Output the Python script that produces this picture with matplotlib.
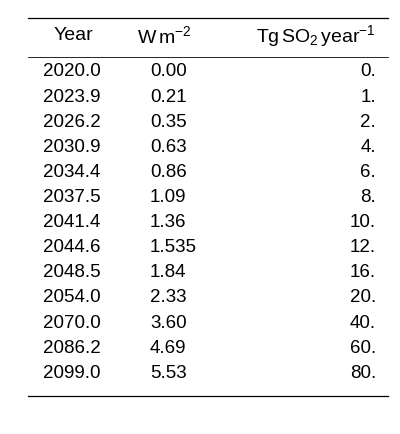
import matplotlib
matplotlib.use("Agg")
import matplotlib.pyplot as plt

years = ["2020.0","2023.9","2026.2","2030.9","2034.4","2037.5","2041.4","2044.6","2048.5","2054.0","2070.0","2086.2","2099.0"]
forcing = ["0.00","0.21","0.35","0.63","0.86","1.09","1.36","1.535","1.84","2.33","3.60","4.69","5.53"]
emissions = ["0.","1.","2.","4.","6.","8.","10.","12.","16.","20.","40.","60.","80."]
headers = ["Year", r"W$\,$m$^{-2}$", r"Tg$\,$SO$_2\,$year$^{-1}$"]

plt.rcParams['font.family'] = ['Liberation Sans', 'DejaVu Sans']
plt.rcParams['mathtext.fontset'] = 'custom'
plt.rcParams['mathtext.rm'] = 'Liberation Sans'
plt.rcParams['mathtext.it'] = 'Liberation Sans'

W, H = 400, 434
fig = plt.figure(figsize=(W/100, H/100), dpi=100)
ax = fig.add_axes([0, 0, 1, 1])
ax.set_xlim(0, W); ax.set_ylim(H, 0); ax.axis('off')

fs = 13.5
ax.plot([28, 388], [18, 18], color='black', lw=0.9)
ax.plot([28, 388], [57, 57], color='black', lw=0.6)
ax.plot([28, 388], [396, 396], color='black', lw=0.9)

ax.text(73, 36, headers[0], ha='center', va='center', fontsize=fs+0.5)
ax.text(191, 36, headers[1], ha='right', va='center', fontsize=fs+0.5)
ax.text(376, 36, headers[2], ha='right', va='center', fontsize=fs+0.5)

y0, dy = 72, 25.1
for i, (a, b, c) in enumerate(zip(years, forcing, emissions)):
    y = y0 + i*dy
    ax.text(72, y, a, ha='center', va='center', fontsize=fs)
    ax.text(150, y, b, ha='left', va='center', fontsize=fs)
    ax.text(376, y, c, ha='right', va='center', fontsize=fs)

fig.savefig("out.png", dpi=100)
